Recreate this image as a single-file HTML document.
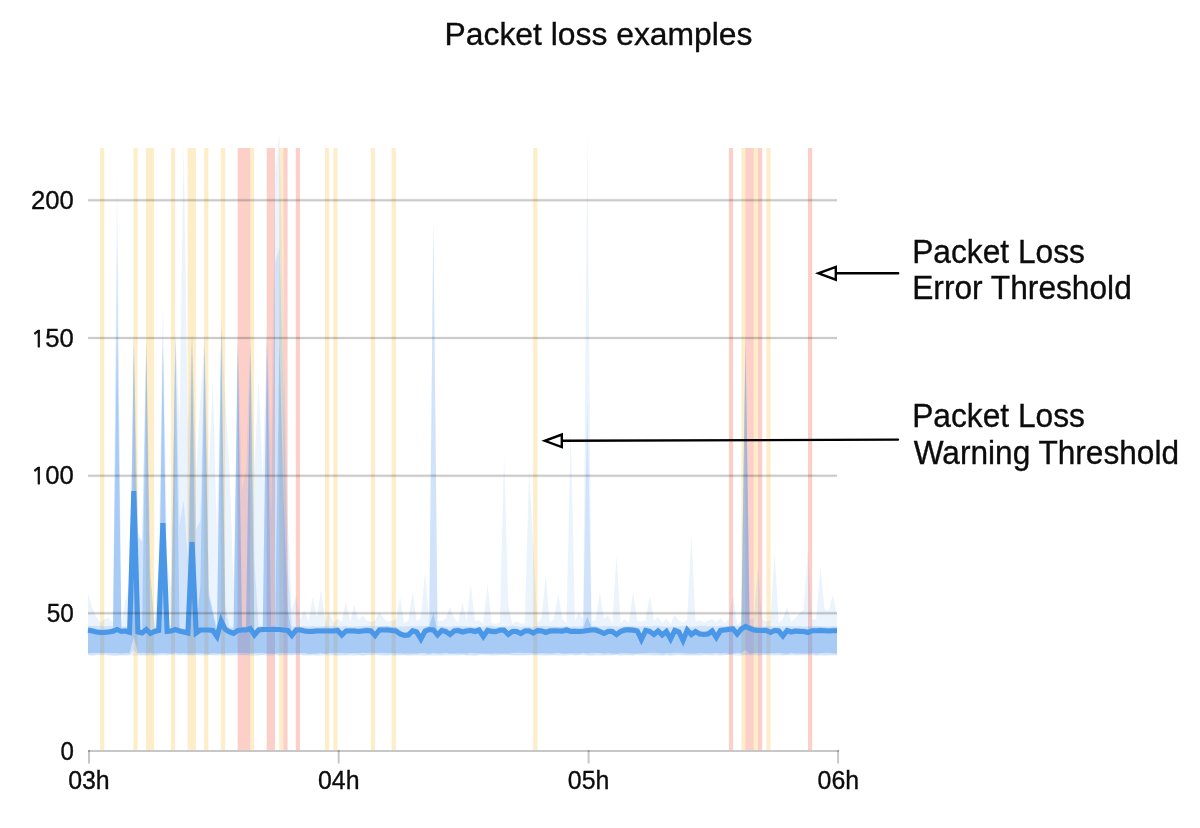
<!DOCTYPE html>
<html lang="en"><head><meta charset="utf-8"><title>Packet loss examples</title>
<style>html,body{margin:0;padding:0;background:#fff}body{width:1200px;height:828px;overflow:hidden}svg{display:block}text{font-family:"Liberation Sans",Arial,sans-serif;fill:#0c0c0c}</style></head><body>
<svg width="1200" height="828" viewBox="0 0 1200 828">
<rect width="1200" height="828" fill="#fff"/>
<text x="444.5" y="45" font-size="32.2" stroke="#0c0c0c" stroke-width="0.35" textLength="308" lengthAdjust="spacingAndGlyphs">Packet loss examples</text>
<rect x="100.1" y="148" width="4.2" height="602" fill="rgba(249,171,0,0.21)"/>
<rect x="133.5" y="148" width="4.2" height="602" fill="rgba(249,171,0,0.21)"/>
<rect x="145.9" y="148" width="8.3" height="602" fill="rgba(249,171,0,0.21)"/>
<rect x="170.9" y="148" width="4.2" height="602" fill="rgba(249,171,0,0.21)"/>
<rect x="187.6" y="148" width="8.3" height="602" fill="rgba(249,171,0,0.21)"/>
<rect x="204.2" y="148" width="4.2" height="602" fill="rgba(249,171,0,0.21)"/>
<rect x="220.9" y="148" width="4.2" height="602" fill="rgba(249,171,0,0.21)"/>
<rect x="237.6" y="148" width="12.5" height="602" fill="rgba(244,67,40,0.25)"/>
<rect x="250" y="148" width="4.2" height="602" fill="rgba(249,171,0,0.21)"/>
<rect x="266.7" y="148" width="8.3" height="602" fill="rgba(244,67,40,0.25)"/>
<rect x="279.2" y="148" width="4.2" height="602" fill="rgba(249,171,0,0.21)"/>
<rect x="283.4" y="148" width="4.2" height="602" fill="rgba(244,67,40,0.25)"/>
<rect x="295.8" y="148" width="4.2" height="602" fill="rgba(244,67,40,0.25)"/>
<rect x="325" y="148" width="4.2" height="602" fill="rgba(249,171,0,0.21)"/>
<rect x="333.3" y="148" width="4.2" height="602" fill="rgba(249,171,0,0.21)"/>
<rect x="370.8" y="148" width="4.2" height="602" fill="rgba(249,171,0,0.21)"/>
<rect x="391.6" y="148" width="4.2" height="602" fill="rgba(249,171,0,0.21)"/>
<rect x="533.2" y="148" width="4.2" height="602" fill="rgba(249,171,0,0.21)"/>
<rect x="728.9" y="148" width="4.2" height="602" fill="rgba(244,67,40,0.25)"/>
<rect x="741.4" y="148" width="4.2" height="602" fill="rgba(249,171,0,0.21)"/>
<rect x="745.5" y="148" width="8.3" height="602" fill="rgba(244,67,40,0.25)"/>
<rect x="753.9" y="148" width="4.2" height="602" fill="rgba(249,171,0,0.21)"/>
<rect x="758" y="148" width="4.2" height="602" fill="rgba(244,67,40,0.25)"/>
<rect x="766.4" y="148" width="4.2" height="602" fill="rgba(249,171,0,0.21)"/>
<rect x="808" y="148" width="4.2" height="602" fill="rgba(244,67,40,0.25)"/>
<g fill="#3c8cee">
<path fill-opacity="0.10" d="M88,593L92.2,607L96.3,617L100.5,622.4L104.6,619.2L108.8,618L113,623.4L117.1,173L121.3,622.9L125.5,600L129.6,585L133.8,335L137.9,532L142.1,540L146.3,340L150.4,575L154.6,623.5L158.7,560L162.9,300L167.1,560L171.2,590L175.4,332L179.5,425L183.7,141L187.9,435L192,330L196.2,470L200.4,400L204.5,335L208.7,480L212.8,380L217,540L221.2,322L225.3,400L229.5,470L233.6,590L237.8,332L242,490L246.1,470L250.3,335L254.4,470L258.6,380L262.8,480L266.9,330L271.1,450L275.2,172L279.4,134L283.6,330L287.7,520L291.9,610L296.1,596L300.2,618.7L304.4,610L308.5,622.3L312.7,597L316.9,618.2L321,590L325.2,622.5L329.3,612L333.5,623L337.7,618.7L341.8,621.6L346,601L350.2,621.8L354.3,605L358.5,620.5L362.6,615L366.8,620.6L371,622L375.1,620.7L379.3,612L383.4,618.1L387.6,621.7L391.8,620.9L395.9,619.4L400.1,597L404.2,622.7L408.4,620.7L412.6,592L416.7,620.8L420.9,618.6L425.1,572L429.2,620.6L433.4,221L437.5,620.7L441.7,621.1L445.9,618.2L450,607L454.2,618.5L458.3,622.4L462.5,602L466.7,621.1L470.8,585L475,621L479.1,620.3L483.3,623.7L487.5,584L491.6,623.1L495.8,624L500,622.4L504.1,455L508.3,606L512.4,623.9L516.6,621L520.8,623.7L524.9,623.5L529.1,470L533.2,545L537.4,623.6L541.6,618.4L545.7,575L549.9,622.5L554,619L558.2,594L562.4,619.6L566.5,622.9L570.7,428L574.9,621L579,612L583.2,619.2L587.3,132L591.5,621L595.7,619.9L599.8,592L604,619.1L608.1,615L612.3,623.6L616.5,556L620.6,623.4L624.8,619L628.9,622.7L633.1,592L637.3,621.2L641.4,621.8L645.6,620.2L649.8,596L653.9,621.3L658.1,617L662.2,623.3L666.4,618.6L670.6,624L674.7,615L678.9,620.4L683,622.8L687.2,619.6L691.4,535L695.5,621.5L699.7,620.2L703.8,622.6L708,620.7L712.2,619.1L716.3,622.5L720.5,618.3L724.7,622.9L728.8,619.5L733,595L737.1,623.9L741.3,621.5L745.5,335L749.6,619.9L753.8,618L757.9,568L762.1,618.9L766.3,621.7L770.4,620.6L774.6,553L778.7,623.4L782.9,618.8L787.1,607L791.2,621.9L795.4,618.1L799.6,613L803.7,610L807.9,548L812,620.1L816.2,619.3L820.4,567L824.5,609L828.7,611L832.8,595L837,615L837,655.5L832.8,655.5L828.7,655.7L824.5,655.9L820.4,655.8L816.2,655.9L812,655.2L807.9,655.7L803.7,655.2L799.6,655.6L795.4,655.8L791.2,655.3L787.1,655.4L782.9,656L778.7,655.4L774.6,655.9L770.4,655.4L766.3,655.6L762.1,655.3L757.9,655.9L753.8,655.6L749.6,655.6L745.5,655.1L741.3,656.1L737.1,655.9L733,655.3L728.8,655.1L724.7,655.3L720.5,655.9L716.3,655.2L712.2,656L708,655.3L703.8,655.6L699.7,655.8L695.5,655.4L691.4,655.9L687.2,655.5L683,655.5L678.9,655.1L674.7,655.7L670.6,656L666.4,655.6L662.2,656.1L658.1,655.4L653.9,655.5L649.8,655.8L645.6,655.4L641.4,655.4L637.3,655.1L633.1,655.5L628.9,655.4L624.8,655.3L620.6,655.9L616.5,655.2L612.3,655.2L608.1,655.4L604,655.7L599.8,655.9L595.7,655.7L591.5,655.9L587.3,655.9L583.2,655.1L579,655.2L574.9,655.3L570.7,655.2L566.5,656L562.4,656L558.2,656L554,655.2L549.9,656L545.7,655.9L541.6,655.9L537.4,655.5L533.2,655.7L529.1,655.2L524.9,655.8L520.8,655.8L516.6,655.7L512.4,655.8L508.3,655.1L504.1,655.1L500,655.2L495.8,655.4L491.6,656L487.5,655.2L483.3,655.1L479.1,655.2L475,656L470.8,655.2L466.7,655.7L462.5,655.3L458.3,655.4L454.2,655.7L450,655.8L445.9,655.5L441.7,656L437.5,655.8L433.4,655.9L429.2,655.6L425.1,656.1L420.9,655.8L416.7,655.8L412.6,655.7L408.4,656L404.2,655.3L400.1,655.4L395.9,656L391.8,655.4L387.6,655.8L383.4,656L379.3,655.8L375.1,655.3L371,655.4L366.8,655.1L362.6,656L358.5,655.3L354.3,656.1L350.2,655.7L346,655.4L341.8,655.6L337.7,655.9L333.5,655.5L329.3,655.7L325.2,655.4L321,655.8L316.9,655.9L312.7,655.8L308.5,655.8L304.4,655.4L300.2,655.1L296.1,655.3L291.9,655.2L287.7,655.3L283.6,655.6L279.4,655.8L275.2,655.6L271.1,655.8L266.9,655.9L262.8,655.1L258.6,655.8L254.4,655.9L250.3,656L246.1,655.1L242,655.4L237.8,655.4L233.6,655.3L229.5,655.9L225.3,655.7L221.2,655.6L217,655.7L212.8,655.3L208.7,655.2L204.5,656L200.4,655.7L196.2,655.1L192,655.9L187.9,655.2L183.7,655.3L179.5,655.5L175.4,655.6L171.2,655.1L167.1,656L162.9,655.3L158.7,655.8L154.6,656L150.4,655.5L146.3,655.7L142.1,655.5L137.9,655.7L133.8,655.7L129.6,655.1L125.5,655.4L121.3,655.5L117.1,655.9L113,656L108.8,655.7L104.6,655.2L100.5,655.2L96.3,655.3L92.2,656L88,655.2Z"/>
<path fill-opacity="0.15" d="M88,626.1L92.2,625.9L96.3,626.1L100.5,626.1L104.6,626.6L108.8,625.8L113,626.6L117.1,240L121.3,625.9L125.5,626.7L129.6,626.5L133.8,335L137.9,537L142.1,542L146.3,340L150.4,575L154.6,626.4L158.7,626.2L162.9,335L167.1,626.1L171.2,625.8L175.4,332L179.5,525L183.7,500L187.9,560L192,335L196.2,530L200.4,520L204.5,340L208.7,590L212.8,611L217,626.7L221.2,326L225.3,606L229.5,626.7L233.6,626.7L237.8,337L242,626.5L246.1,625.8L250.3,340L254.4,560L258.6,626.6L262.8,626.4L266.9,335L271.1,520L275.2,262L279.4,248L283.6,400L287.7,570L291.9,626.1L296.1,626.5L300.2,626.8L304.4,626.1L308.5,626.5L312.7,626.1L316.9,626.4L321,626.2L325.2,626L329.3,626L333.5,626L337.7,626.7L341.8,626.3L346,626L350.2,626.7L354.3,626.8L358.5,626.2L362.6,625.9L366.8,626L371,625.9L375.1,626.1L379.3,625.9L383.4,626L387.6,626.1L391.8,626.4L395.9,626.7L400.1,626.5L404.2,626.2L408.4,626.2L412.6,626.3L416.7,626.2L420.9,626.1L425.1,625.9L429.2,626.1L433.4,221L437.5,625.9L441.7,626.3L445.9,626.4L450,626.7L454.2,626L458.3,626.1L462.5,626L466.7,626.2L470.8,626.2L475,626.8L479.1,626.6L483.3,626.7L487.5,625.8L491.6,625.8L495.8,626.5L500,626.7L504.1,626.3L508.3,626.4L512.4,625.8L516.6,626.2L520.8,626.7L524.9,626.6L529.1,626.7L533.2,626.8L537.4,626L541.6,625.9L545.7,626L549.9,626.3L554,626.5L558.2,626.7L562.4,626.5L566.5,626.4L570.7,626.6L574.9,626.3L579,626.4L583.2,625.8L587.3,400L591.5,626L595.7,626.6L599.8,626.4L604,626.1L608.1,625.9L612.3,626.1L616.5,626.4L620.6,626.5L624.8,625.9L628.9,625.9L633.1,626.3L637.3,626.4L641.4,626.2L645.6,626L649.8,626.4L653.9,625.8L658.1,626.1L662.2,626.3L666.4,626.8L670.6,626.4L674.7,626.7L678.9,626.3L683,626L687.2,626L691.4,626.8L695.5,626.5L699.7,626.1L703.8,625.8L708,626.3L712.2,626.5L716.3,626.2L720.5,626.1L724.7,626.5L728.8,626.1L733,625.8L737.1,625.8L741.3,626L745.5,335L749.6,625.1L753.8,626L757.9,626.6L762.1,626.5L766.3,626.3L770.4,626L774.6,626.8L778.7,626.1L782.9,626.6L787.1,626L791.2,626L795.4,626.6L799.6,626.1L803.7,626.8L807.9,626.3L812,626L816.2,626L820.4,626.2L824.5,626.5L828.7,626.7L832.8,625.9L837,626.2L837,655.2L832.8,654.7L828.7,654.7L824.5,654.9L820.4,654.6L816.2,655.3L812,654.6L807.9,654.6L803.7,654.7L799.6,655L795.4,654.5L791.2,654.4L787.1,654.9L782.9,654.9L778.7,654.7L774.6,654.4L770.4,654.4L766.3,654.8L762.1,655.1L757.9,654.5L753.8,654.6L749.6,654.5L745.5,655L741.3,654.6L737.1,654.3L733,654.5L728.8,655L724.7,654.9L720.5,654.6L716.3,654.5L712.2,654.4L708,654.7L703.8,654.5L699.7,654.9L695.5,654.9L691.4,654.4L687.2,655.2L683,655.1L678.9,654.6L674.7,654.7L670.6,655.2L666.4,654.7L662.2,655.2L658.1,654.9L653.9,655.3L649.8,654.5L645.6,654.4L641.4,654.6L637.3,654.3L633.1,655.2L628.9,655.1L624.8,655.1L620.6,654.8L616.5,654.4L612.3,655.3L608.1,655L604,655.1L599.8,654.5L595.7,654.8L591.5,655.3L587.3,654.7L583.2,654.6L579,654.9L574.9,655.2L570.7,654.5L566.5,654.5L562.4,654.5L558.2,654.5L554,655L549.9,654.7L545.7,654.9L541.6,654.6L537.4,655.1L533.2,654.4L529.1,655L524.9,655.1L520.8,655L516.6,655L512.4,654.9L508.3,654.7L504.1,654.5L500,654.7L495.8,655L491.6,654.8L487.5,654.4L483.3,654.4L479.1,654.6L475,655.3L470.8,655.2L466.7,655.3L462.5,654.6L458.3,654.9L454.2,654.3L450,654.4L445.9,654.5L441.7,655.1L437.5,654.5L433.4,654.4L429.2,655.1L425.1,654.7L420.9,654.6L416.7,654.6L412.6,654.9L408.4,655.1L404.2,655.1L400.1,655L395.9,655.1L391.8,654.5L387.6,655.2L383.4,654.8L379.3,654.7L375.1,654.6L371,654.7L366.8,655.3L362.6,655.3L358.5,654.8L354.3,654.5L350.2,654.3L346,655.2L341.8,654.9L337.7,655.2L333.5,655.1L329.3,654.3L325.2,654.6L321,654.6L316.9,655L312.7,654.6L308.5,654.9L304.4,655.3L300.2,654.6L296.1,654.6L291.9,655.2L287.7,655L283.6,654.6L279.4,655.2L275.2,654.4L271.1,654.3L266.9,654.3L262.8,655.1L258.6,655.1L254.4,654.7L250.3,654.3L246.1,655.2L242,654.7L237.8,654.5L233.6,655.2L229.5,654.7L225.3,654.8L221.2,654.3L217,654.7L212.8,655.1L208.7,655.1L204.5,654.7L200.4,654.5L196.2,655.3L192,654.4L187.9,655.3L183.7,654.7L179.5,654.6L175.4,654.3L171.2,654.5L167.1,654.6L162.9,654.7L158.7,654.7L154.6,655L150.4,654.3L146.3,655L142.1,655.2L137.9,654.5L133.8,650L129.6,655.2L125.5,655.3L121.3,655L117.1,655.2L113,655.2L108.8,654.7L104.6,654.4L100.5,654.4L96.3,654.4L92.2,655.3L88,654.5Z"/>
<path fill-opacity="0.28" d="M88,627L92.2,627.7L96.3,628.9L100.5,629.6L104.6,629.3L108.8,629.1L113,628.3L117.1,330L121.3,628.2L125.5,627.6L129.6,628.9L133.8,345L137.9,628.6L142.1,629.9L146.3,350L150.4,630.5L154.6,628.3L158.7,627.4L162.9,345L167.1,628.1L171.2,627.9L175.4,340L179.5,628L183.7,629L187.9,629.8L192,345L196.2,630L200.4,585L204.5,350L208.7,596L212.8,613L217,633.2L221.2,334L225.3,626.4L229.5,628.6L233.6,630.1L237.8,345L242,627L246.1,627L250.3,350L254.4,632L258.6,627.1L262.8,626.4L266.9,344L271.1,626.3L275.2,626.1L279.4,344L283.6,500L287.7,610L291.9,632.3L296.1,627.1L300.2,626.8L304.4,628L308.5,628.5L312.7,628.1L316.9,627.7L321,627.7L325.2,627.6L329.3,627.9L333.5,627.7L337.7,627.3L341.8,631.6L346,628L350.2,627.7L354.3,627.8L358.5,628.4L362.6,628L366.8,627.3L371,628.1L375.1,632.3L379.3,626.8L383.4,626.8L387.6,626.5L391.8,627.3L395.9,627.6L400.1,630.5L404.2,632.5L408.4,631.6L412.6,627.6L416.7,628.9L420.9,635.8L425.1,627.7L429.2,626.3L433.4,613L437.5,632L441.7,627.1L445.9,628.3L450,631.1L454.2,627.7L458.3,627.5L462.5,628.8L466.7,627.8L470.8,627.5L475,628.5L479.1,626.8L483.3,633.4L487.5,627.3L491.6,628.3L495.8,628.5L500,626.9L504.1,627L508.3,631.3L512.4,628.6L516.6,628.4L520.8,630.5L524.9,628.1L529.1,627.7L533.2,629.8L537.4,627.6L541.6,627.9L545.7,629.1L549.9,627.7L554,627.6L558.2,627.6L562.4,627.8L566.5,626.5L570.7,628.4L574.9,628.3L579,628.5L583.2,627.9L587.3,616.5L591.5,626.9L595.7,626.6L599.8,628.5L604,630.6L608.1,628.1L612.3,628.6L616.5,631.2L620.6,628.3L624.8,627.1L628.9,626.9L633.1,626.8L637.3,627.8L641.4,636.3L645.6,627.2L649.8,628.1L653.9,631.2L658.1,627.9L662.2,631.5L666.4,628.3L670.6,635.8L674.7,627L678.9,628.7L683,637.4L687.2,626.8L691.4,631L695.5,628.6L699.7,631L703.8,631.6L708,630.6L712.2,627.7L716.3,634L720.5,627.5L724.7,626.7L728.8,626.1L733,625.8L737.1,631L741.3,626L745.5,345L749.6,625.1L753.8,627.1L757.9,627.3L762.1,627.4L766.3,627.1L770.4,629L774.6,627.4L778.7,627.8L782.9,632.5L787.1,627.6L791.2,628.9L795.4,628L799.6,628.1L803.7,628.5L807.9,629L812,627.8L816.2,627.6L820.4,627.3L824.5,627.6L828.7,628.1L832.8,627.5L837,627.4L837,653.2L832.8,653.2L828.7,652.7L824.5,652.7L820.4,653.2L816.2,653.6L812,652.9L807.9,653.4L803.7,653.6L799.6,653.2L795.4,653.5L791.2,652.8L787.1,653.7L782.9,653.2L778.7,652.8L774.6,653.3L770.4,652.9L766.3,653.6L762.1,652.9L757.9,653L753.8,653.1L749.6,653.7L745.5,650L741.3,653.2L737.1,652.7L733,653.6L728.8,653.7L724.7,652.9L720.5,653.6L716.3,652.8L712.2,653.2L708,653.2L703.8,653.2L699.7,653L695.5,653.4L691.4,653.4L687.2,653.4L683,653L678.9,652.8L674.7,652.7L670.6,653.3L666.4,653L662.2,653.4L658.1,653L653.9,652.8L649.8,652.8L645.6,653.3L641.4,653.3L637.3,653.5L633.1,653.4L628.9,653.2L624.8,653.1L620.6,653.2L616.5,653.7L612.3,653.4L608.1,652.9L604,653.4L599.8,653L595.7,652.8L591.5,653L587.3,653.4L583.2,652.8L579,653.4L574.9,653.2L570.7,653.2L566.5,653.4L562.4,653.5L558.2,652.7L554,653.2L549.9,653.4L545.7,653.3L541.6,653.3L537.4,653.3L533.2,653.5L529.1,652.8L524.9,653.1L520.8,652.8L516.6,652.7L512.4,652.9L508.3,653.4L504.1,653.4L500,653.6L495.8,653.3L491.6,653.5L487.5,653.5L483.3,653.5L479.1,653.2L475,653.2L470.8,652.8L466.7,653.5L462.5,653.4L458.3,653.3L454.2,653.6L450,653.5L445.9,652.7L441.7,653.3L437.5,653.4L433.4,652.8L429.2,653.7L425.1,653L420.9,653.1L416.7,653.6L412.6,653.4L408.4,653.4L404.2,653.5L400.1,653.2L395.9,653.3L391.8,652.9L387.6,653L383.4,652.7L379.3,652.7L375.1,653.1L371,652.8L366.8,653L362.6,652.7L358.5,653.2L354.3,652.9L350.2,653.2L346,653.2L341.8,653.1L337.7,652.7L333.5,653.1L329.3,653L325.2,653.7L321,652.9L316.9,653.2L312.7,653.7L308.5,653.7L304.4,653L300.2,653.1L296.1,652.9L291.9,653.2L287.7,653L283.6,652.9L279.4,653L275.2,653.4L271.1,653.6L266.9,653.5L262.8,652.8L258.6,652.9L254.4,653L250.3,653.4L246.1,652.8L242,652.8L237.8,652.8L233.6,653L229.5,653.1L225.3,653.3L221.2,653.4L217,653.5L212.8,653L208.7,653.7L204.5,653.4L200.4,653.2L196.2,653.1L192,653.5L187.9,653.2L183.7,653.1L179.5,653.5L175.4,652.8L171.2,653.6L167.1,653.2L162.9,652.9L158.7,653.3L154.6,653.4L150.4,652.7L146.3,653L142.1,652.7L137.9,653L133.8,637L129.6,653.2L125.5,653L121.3,653.5L117.1,653L113,653L108.8,652.9L104.6,652.8L100.5,652.9L96.3,652.8L92.2,652.9L88,653.2Z"/>
</g>
<path d="M88,630.3L92.2,631L96.3,632L100.5,632.5L104.6,632.5L108.8,632L113,631.2L117.1,629.5L121.3,631.5L125.5,631L129.6,632.3L133.8,491L137.9,632L142.1,633L146.3,629.5L150.4,633.5L154.6,631.5L158.7,630.5L162.9,523L167.1,631.5L171.2,631L175.4,629.5L179.5,631L183.7,632L187.9,633L192,542L196.2,633L200.4,630L204.5,630L208.7,630L212.8,630.5L217,636.5L221.2,621L225.3,629.5L229.5,632L233.6,633.5L237.8,630.5L242,630L246.1,630L250.3,628.5L254.4,635L258.6,630L262.8,629.5L266.9,629.5L271.1,629.5L275.2,629.5L279.4,629.5L283.6,630L287.7,630.5L291.9,635.5L296.1,630L300.2,630L304.4,631L308.5,631.5L312.7,631.5L316.9,631L321,631L325.2,631L329.3,631L333.5,631L337.7,630.5L341.8,635L346,631L350.2,631L354.3,631L358.5,631.5L362.6,631L366.8,630.5L371,631L375.1,635.5L379.3,630L383.4,630L387.6,630L391.8,630.5L395.9,631L400.1,634L404.2,635.5L408.4,635L412.6,630.8L416.7,632L420.9,639L425.1,631L429.2,629.5L433.4,630L437.5,635L441.7,630.5L445.9,631.5L450,634.5L454.2,631L458.3,630.5L462.5,632L466.7,631L470.8,630.5L475,631.5L479.1,630L483.3,636.5L487.5,630.5L491.6,631.5L495.8,631.6L500,630.2L504.1,630.2L508.3,634.5L512.4,631.5L516.6,631.5L520.8,633.5L524.9,631L529.1,631L533.2,633L537.4,630.6L541.6,630.9L545.7,632.5L549.9,631.1L554,630.8L558.2,631L562.4,631.1L566.5,630L570.7,631.5L574.9,631.3L579,631.5L583.2,631.3L587.3,630.6L591.5,630L595.7,630L599.8,631.5L604,633.5L608.1,631.5L612.3,631.5L616.5,634.5L620.6,631.5L624.8,630L628.9,629.9L633.1,630.2L637.3,631L641.4,639.5L645.6,630.5L649.8,631.5L653.9,634.5L658.1,631L662.2,635L666.4,631.5L670.6,639L674.7,630.5L678.9,632L683,640.5L687.2,630L691.4,634.5L695.5,631.5L699.7,634L703.8,634.5L708,634L712.2,631L716.3,637.5L720.5,630.5L724.7,630L728.8,629.5L733,629L737.1,634L741.3,629L745.5,626.5L749.6,628.5L753.8,630L757.9,630.5L762.1,630.5L766.3,630.5L770.4,632.5L774.6,630.5L778.7,631L782.9,636L787.1,630.5L791.2,632L795.4,631L799.6,631.5L803.7,631.5L807.9,632.5L812,630.8L816.2,630.8L820.4,630.6L824.5,630.8L828.7,631L832.8,630.8L837,630.8" fill="none" stroke="#4a97e8" stroke-width="5.1" stroke-linejoin="miter" stroke-miterlimit="4"/>
<line x1="88" x2="837" y1="613.3" y2="613.3" stroke="rgba(0,0,0,0.17)" stroke-width="2"/>
<line x1="88" x2="837" y1="613.3" y2="613.3" stroke="rgba(0,0,0,0.04)" stroke-width="3.6"/>
<line x1="88" x2="837" y1="475.7" y2="475.7" stroke="rgba(0,0,0,0.17)" stroke-width="2"/>
<line x1="88" x2="837" y1="475.7" y2="475.7" stroke="rgba(0,0,0,0.04)" stroke-width="3.6"/>
<line x1="88" x2="837" y1="338" y2="338" stroke="rgba(0,0,0,0.17)" stroke-width="2"/>
<line x1="88" x2="837" y1="338" y2="338" stroke="rgba(0,0,0,0.04)" stroke-width="3.6"/>
<line x1="88" x2="837" y1="200.3" y2="200.3" stroke="rgba(0,0,0,0.17)" stroke-width="2"/>
<line x1="88" x2="837" y1="200.3" y2="200.3" stroke="rgba(0,0,0,0.04)" stroke-width="3.6"/>
<g fill="rgba(0,0,0,0.22)"><rect x="88" y="750" width="751.1" height="2"/><rect x="88" y="750" width="2" height="13.6"/><rect x="337.7" y="750" width="2" height="13.6"/><rect x="587.6" y="750" width="2" height="13.6"/><rect x="837.1" y="750" width="2" height="13.6"/></g>
<g font-size="25.6" stroke="#0c0c0c" stroke-width="0.35">
<text x="60.4" y="759.6" textLength="13.4" lengthAdjust="spacingAndGlyphs">0</text>
<text x="46.7" y="621.9" textLength="27.1" lengthAdjust="spacingAndGlyphs">50</text>
<text x="31" y="484.3" textLength="42.8" lengthAdjust="spacingAndGlyphs"><tspan font-family="NanumGothic,sans-serif" font-size="23.4" stroke-width="0.75" stroke-linejoin="miter">1</tspan>00</text>
<text x="31" y="346.6" textLength="42.8" lengthAdjust="spacingAndGlyphs"><tspan font-family="NanumGothic,sans-serif" font-size="23.4" stroke-width="0.75" stroke-linejoin="miter">1</tspan>50</text>
<text x="31" y="208.9" textLength="42.8" lengthAdjust="spacingAndGlyphs">200</text>
<text x="68.2" y="788.9" textLength="41.5" lengthAdjust="spacingAndGlyphs">03h</text>
<text x="318" y="788.9" textLength="41.5" lengthAdjust="spacingAndGlyphs">04h</text>
<text x="567.8" y="788.9" textLength="41.5" lengthAdjust="spacingAndGlyphs">05h</text>
<text x="817.6" y="788.9" textLength="41.5" lengthAdjust="spacingAndGlyphs">06h</text>
</g>
<g fill="none" stroke="#000" stroke-width="2.4" stroke-linejoin="miter" stroke-linecap="round">
<path d="M898.2,273.3H835.8M835.8,266.9V279.7L818.4,273.3Z"/>
<path d="M898,439.6L561.8,440.8M561.8,434.5V447.1L544.8,440.8Z"/>
</g>
<g font-size="32.4" stroke="#0c0c0c" stroke-width="0.35">
<text x="912.2" y="262.7" textLength="172.8" lengthAdjust="spacingAndGlyphs">Packet Loss</text>
<text x="912.2" y="298.8" textLength="219.6" lengthAdjust="spacingAndGlyphs">Error Threshold</text>
<text x="912.2" y="426.9" textLength="172.8" lengthAdjust="spacingAndGlyphs">Packet Loss</text>
<text x="913.7" y="463.5" textLength="265.3" lengthAdjust="spacingAndGlyphs">Warning Threshold</text>
</g>
</svg></body></html>
